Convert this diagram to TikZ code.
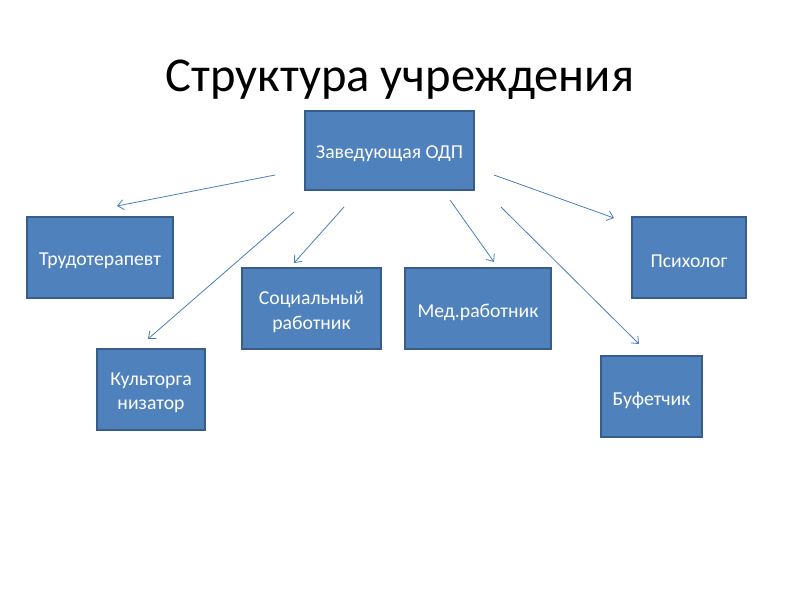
\documentclass[tikz,border=0pt]{standalone}
\usepackage{fontspec}
\setmainfont{Carlito}
\usetikzlibrary{arrows.meta}
\definecolor{boxfill}{HTML}{4F81BD}
\definecolor{boxline}{HTML}{385D8A}
\definecolor{arrline}{HTML}{4A7EBB}
\begin{document}
\begin{tikzpicture}[x=1pt,y=-1pt,
  orgbox/.style={draw=boxline,line width=1.4pt,fill=boxfill,inner sep=0pt},
  boxtext/.style={text=white,font=\fontsize{19.7}{24.5}\selectfont,align=center,inner sep=0pt,yshift=-3.5pt},
  link/.style={draw=arrline,line width=0.8pt,-{Straight Barb[length=6pt,width=10pt]}}]
\useasboundingbox (0,0) rectangle (800,600);
\node[font=\fontsize{48.6}{56}\selectfont] (title) at (400,79.5) {Структура учреждения};
\node[orgbox,minimum width=169pt,minimum height=79pt,label={[boxtext]center:Заведующая ОДП}] (head) at (389.5,150.5) {};
\node[orgbox,minimum width=146pt,minimum height=81pt,label={[boxtext]center:Трудотерапевт}] (trud) at (100,257.5) {};
\node[orgbox,minimum width=139pt,minimum height=81pt,label={[boxtext]center:Социальный\\работник}] (soc) at (311.5,308.5) {};
\node[orgbox,minimum width=146pt,minimum height=81pt,label={[boxtext]center:Мед.работник}] (med) at (478,308.5) {};
\node[orgbox,minimum width=114pt,minimum height=81pt,label={[boxtext]center:Психолог}] (psy) at (689,257.5) {};
\node[orgbox,minimum width=108pt,minimum height=81pt,label={[boxtext]center:Культорга\\низатор}] (kult) at (151,389.5) {};
\node[orgbox,minimum width=101pt,minimum height=81pt,label={[boxtext]center:Буфетчик}] (buf) at (651.5,396.5) {};
\coordinate (s1) at (275,175); \coordinate (e1) at (117,206);
\coordinate (s2) at (294,212); \coordinate (e2) at (148,339);
\coordinate (s3) at (344,207); \coordinate (e3) at (294,263);
\coordinate (s4) at (450,200); \coordinate (e4) at (494,262);
\coordinate (s5) at (494,175); \coordinate (e5) at (614,218);
\coordinate (s6) at (501,207); \coordinate (e6) at (639,344);
\draw[link] (s1) -- (e1);
\draw[link] (s2) -- (e2);
\draw[link] (s3) -- (e3);
\draw[link] (s4) -- (e4);
\draw[link] (s5) -- (e5);
\draw[link] (s6) -- (e6);
\end{tikzpicture}
\end{document}
